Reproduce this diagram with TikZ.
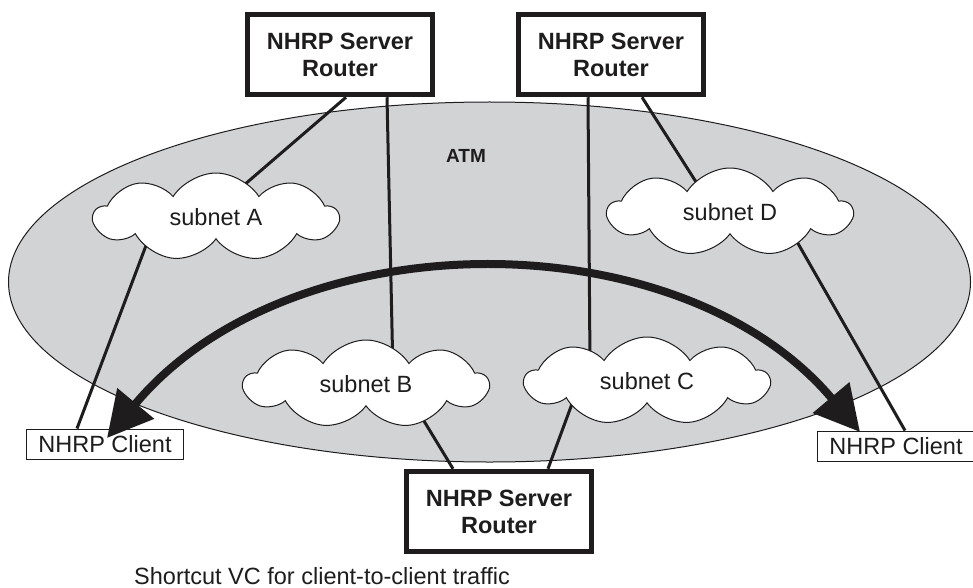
\documentclass[tikz,border=0pt]{standalone}
\usepackage{fontspec}
\setmainfont{Liberation Sans}
\usetikzlibrary{shapes.symbols,shapes.geometric,arrows.meta}
\definecolor{atmgray}{RGB}{210,211,213}
\definecolor{ink}{RGB}{30,28,29}
\pgfdeclarelayer{bg}
\pgfdeclarelayer{lines}
\pgfdeclarelayer{fg}
\pgfsetlayers{bg,lines,main,fg}
\tikzset{
  server/.style={draw=ink, line width=5.5pt, fill=white, minimum width=185pt, minimum height=80pt,
    align=center, font=\fontsize{23.5}{27}\selectfont\bfseries, text=ink, inner sep=0pt},
  client/.style={draw=ink, line width=1pt, fill=white, minimum width=157pt, minimum height=30pt,
    font=\fontsize{23.5}{27}\selectfont, text=ink, inner sep=0pt},
  subnet/.style={cloud, cloud puffs=9, cloud puff arc=115, cloud ignores aspect, draw=ink, line width=1pt,
    fill=white, minimum width=244pt, minimum height=88pt, inner sep=0pt,
    font=\fontsize{23.5}{27}\selectfont, text=ink},
  link/.style={draw=ink, line width=3pt},
  shortcut/.style={draw=ink, line width=8pt, {Triangle[length=45pt,width=46pt]}-{Triangle[length=45pt,width=46pt]}},
}
\begin{document}
\begin{tikzpicture}[x=1pt,y=-1pt]
\useasboundingbox (0,0) rectangle (973,588);
\begin{pgfonlayer}{bg}
  \node[ellipse, draw=ink, line width=1pt, fill=atmgray, minimum width=962pt, minimum height=360pt, inner sep=0pt] (atm) at (489.5,282) {};
\end{pgfonlayer}
\node[font=\fontsize{19}{22}\selectfont\bfseries, text=ink] (atmlabel) at (466,156) {ATM};

\node[server] (s1) at (340,54.5) {NHRP Server\\Router};
\node[server] (s2) at (611,54.5) {NHRP Server\\Router};
\node[server] (s3) at (499,511.5) {NHRP Server\\Router};

\node[subnet] (A) at (216,217) {subnet A};
\node[subnet] (B) at (366,384) {subnet B};
\node[subnet] (C) at (647,381) {subnet C};
\node[subnet] (D) at (730,212) {subnet D};

\node[client] (cl1) at (105,444) {NHRP Client};
\node[client] (cl2) at (896,446) {NHRP Client};

\node[font=\fontsize{23.5}{27}\selectfont, text=ink, anchor=west, inner sep=0pt] (caption) at (134,576) {Shortcut VC for client-to-client traffic};

\begin{pgfonlayer}{lines}
  \draw[link] ([xshift=6pt]s1.south) -- ([shift={(20,-25)}]A.center);
  \draw[link] ([xshift=47pt]s1.south) -- ([shift={(27,-9)}]B.center);
  \draw[link] ([xshift=-23pt]s2.south) -- ([shift={(-57,-16)}]C.center);
  \draw[link] ([xshift=31pt]s2.south) -- ([shift={(-25,-16)}]D.center);
  \draw[link] ([shift={(-63,10)}]A.center) -- ([xshift=-28pt]cl1.north);
  \draw[link] ([shift={(58,14)}]D.center) -- ([xshift=9pt]cl2.north);
  \draw[link] ([shift={(44,14)}]B.center) -- ([xshift=-46pt]s3.north);
  \draw[link] ([shift={(-71,12)}]C.center) -- ([xshift=49pt]s3.north);
\end{pgfonlayer}

\begin{pgfonlayer}{fg}
  \draw[shortcut] ([shift={(2,-6)}]cl1.center) .. controls (290,218) and (680,218) .. ([shift={(-36,-14)}]cl2.center);
\end{pgfonlayer}
\end{tikzpicture}
\end{document}
